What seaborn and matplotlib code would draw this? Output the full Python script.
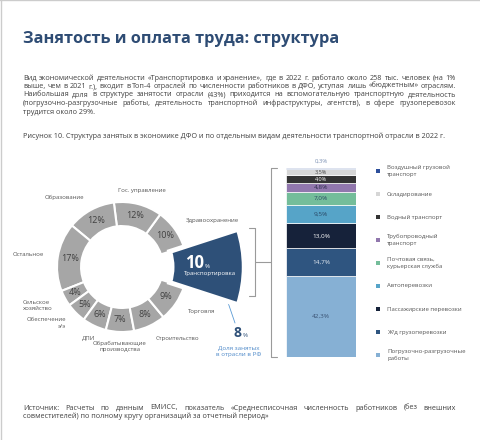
import numpy as np
import matplotlib
matplotlib.use("Agg")
import matplotlib.pyplot as plt
import seaborn as sns

sns.set_theme(style="white")
plt.rcParams['font.family'] = ['Open Sans', 'DejaVu Sans']

# structure of employment in the DFO economy, %
sectors = ['Транспортировка', 'Здравоохранение', 'Гос. управление', 'Образование',
           'Остальное', 'Сельское\nхозяйство', 'Обеспечение\nэ/э', 'ДПИ',
           'Обрабатывающие\nпроизводства', 'Строительство', 'Торговля']
sector_share = [10, 10, 12, 12, 17, 4, 5, 6, 7, 8, 9]
russia_share = 8

# transport branches, % (bottom to top)
branches = ['Погрузочно-разгрузочные\nработы', 'Ж/д грузоперевозки', 'Пассажирские перевозки',
            'Автоперевозки', 'Почтовая связь,\nкурьерская служба', 'Трубопроводный\nтранспорт',
            'Водный транспорт', 'Складирование', 'Воздушный грузовой\nтранспорт']
branch_share = [42.3, 14.7, 13.0, 9.5, 7.0, 4.8, 4.0, 3.5, 0.3]

title = 'Занятость и оплата труда: структура'
para = ['Вид экономической деятельности «Транспортировка и хранение», где в 2022 г. работало около 258 тыс. человек (на 1%',
        'выше, чем в 2021 г.), входит в Топ-4 отраслей по численности работников в ДФО, уступая лишь «бюджетным» отраслям.',
        'Наибольшая доля в структуре занятости отрасли (43%) приходится на вспомогательную транспортную деятельность',
        '(погрузочно-разгрузочные работы, деятельность транспортной инфраструктуры, агентств), в сфере грузоперевозок',
        'трудится около 29%.']
caption = 'Рисунок 10. Структура занятых в экономике ДФО и по отдельным видам деятельности транспортной отрасли в 2022 г.'
source = ['Источник: Расчеты по данным ЕМИСС, показатель «Среднесписочная численность работников (без внешних',
          'совместителей) по полному кругу организаций за отчетный период»']

navy = '#2e5078'
grey = '#a6a6a6'
txt = '#404040'
branch_colors = ['#86b0d4', '#2f5580', '#16223a', '#56a4c8', '#74bd9a',
                 '#9177ad', '#333333', '#d6d6d6', '#2d4f9b']
branch_txt = ['#3a5273', '#e6ecf3', '#ffffff', '#2a4663', '#2a4663',
              '#2a2a4a', '#ffffff', '#444444', '#7f93b5']

fig = plt.figure(figsize=(4.8, 4.4), dpi=100)
ax0 = fig.add_axes([0, 0, 1, 1])
ax0.set_xlim(0, 480)
ax0.set_ylim(440, 0)
ax0.axis('off')
ax0.plot([0.5, 0.5], [0, 440], color='#cccccc', lw=1)
ax0.plot([0, 480], [0.5, 0.5], color='#cccccc', lw=1)

renderer = fig.canvas.get_renderer()


def text_width(s, size):
    t = ax0.text(0, 0, s, fontsize=size)
    w = t.get_window_extent(renderer).width
    t.remove()
    return w


def justify(y, line, x0=23, x1=456, size=5.2):
    words = line.split()
    extra = (x1 - x0 - text_width(line, size)) / (len(words) - 1)
    for i, w in enumerate(words):
        pre = text_width(' '.join(words[:i]) + ' ', size) if i else 0
        ax0.text(x0 + pre + extra * i, y, w, fontsize=size, color=txt, va='center')


ax0.text(23, 39, title, fontsize=11.8, fontweight='bold', color='#2e4c74', va='center')
for i, line in enumerate(para):
    y = 78 + 8.5 * i
    if i < len(para) - 1:
        justify(y, line)
    else:
        ax0.text(23, y, line, fontsize=5.2, color=txt, va='center')
ax0.text(23, 136, caption, fontsize=5.2, color=txt, va='center')
justify(408, source[0])
ax0.text(23, 416, source[1], fontsize=5.2, color=txt, va='center')

# donut
cx, cy, H, R = 122, 267, 128, 65
axd = fig.add_axes([(cx - H) / 480, (440 - cy - H) / 440, 2 * H / 480, 2 * H / 440])
ring_colors = ['none'] + [grey] * (len(sectors) - 1)
w1, t1, a1 = axd.pie(sector_share, labels=sectors, colors=ring_colors, startangle=-18,
                     radius=1, labeldistance=1.22, autopct='%.0f%%', pctdistance=0.815,
                     wedgeprops=dict(width=0.37, edgecolor='white', linewidth=1.5),
                     textprops=dict(fontsize=4.3, color='#555555'))
label_ha = [None, 'left', 'center', 'right', 'right', 'right', 'right', 'center',
            'center', 'left', 'left']
label_ma = [None, 'left', 'left', 'left', 'left', 'left', 'right', 'left',
            'center', 'left', 'left']
for t, ha, ma in zip(t1, label_ha, label_ma):
    if ha:
        t.set_ha(ha)
        t.set_multialignment(ma)
        t.set_linespacing(1.3)
for a in a1:
    a.set_fontsize(6.5)
    a.set_color(txt)
t1[0].set_visible(False)
a1[0].set_visible(False)

w2, _ = axd.pie(sector_share, colors=[navy] + ['none'] * (len(sectors) - 1), startangle=-18,
                radius=1.88, wedgeprops=dict(width=1.11, edgecolor='none'))
w2[0].set_edgecolor('white')
w2[0].set_linewidth(3.5)
axd.text(1.12, -0.015, f'{sector_share[0]}', fontsize=12, fontweight='bold', color='white',
         ha='center', va='baseline')
axd.text(1.31, -0.015, '%', fontsize=4.5, color='white', ha='center', va='baseline')
axd.text(1.35, -0.1, sectors[0], fontsize=4.3, color='white', ha='center', va='center')
axd.set_xlim(-H / R, H / R)
axd.set_ylim(-H / R, H / R)
axd.axis('off')

# brackets and callout
bc = '#9a9a9a'
ax0.plot([249, 255, 255, 249], [228, 228, 296, 296], color=bc, lw=0.8)
ax0.plot([255, 271], [262, 262], color=bc, lw=0.8)
ax0.plot([277, 271, 271, 277], [168, 168, 357, 357], color=bc, lw=0.8)
ax0.plot([222, 235], [285, 323], color='#5b9bd5', lw=0.6)
ax0.text(237, 337, f'{russia_share}', fontsize=10, fontweight='bold', color=navy,
         ha='center', va='baseline')
ax0.text(245, 337, '%', fontsize=4.5, color=navy, ha='center', va='baseline')
ax0.text(239, 351.5, 'Доля занятых\nв отрасли в РФ', fontsize=4.5, color='#4f8ac9',
         ha='center', va='center', linespacing=1.3)

# stacked bar
axb = fig.add_axes([286 / 480, (440 - 357) / 440, 70 / 480, 189 / 440])
bottoms = np.concatenate([[0], np.cumsum(branch_share)[:-1]])
for v, b, c in zip(branch_share, bottoms, branch_colors):
    sns.barplot(x=[0], y=[v], bottom=b, color=c, width=1, saturation=1,
                edgecolor='white', linewidth=0.5, errorbar=None, ax=axb)
total = sum(branch_share)
axb.set_xlim(-0.5, 0.5)
axb.set_ylim(0, total)
axb.axis('off')
for v, b, c in zip(branch_share, bottoms, branch_txt):
    lab = f'{v:.1f}'.replace('.', ',') + '%'
    if v < 1:
        axb.text(0, total + 3.5, lab, fontsize=4.3, color=c, ha='center', va='center', clip_on=False)
    else:
        axb.text(0, b + v / 2, lab, fontsize=4.6 if v > 4.5 else 4.0, color=c,
                 ha='center', va='center')

# legend
for i, (name, c) in enumerate(zip(branches[::-1], branch_colors[::-1])):
    y = 171 + 23 * i
    ax0.scatter([378], [y], marker='s', s=12, color=c, linewidths=0)
    ax0.text(387, y, name, fontsize=4.3, color='#555555', va='center', linespacing=1.4)

fig.savefig('out.png', dpi=100)
